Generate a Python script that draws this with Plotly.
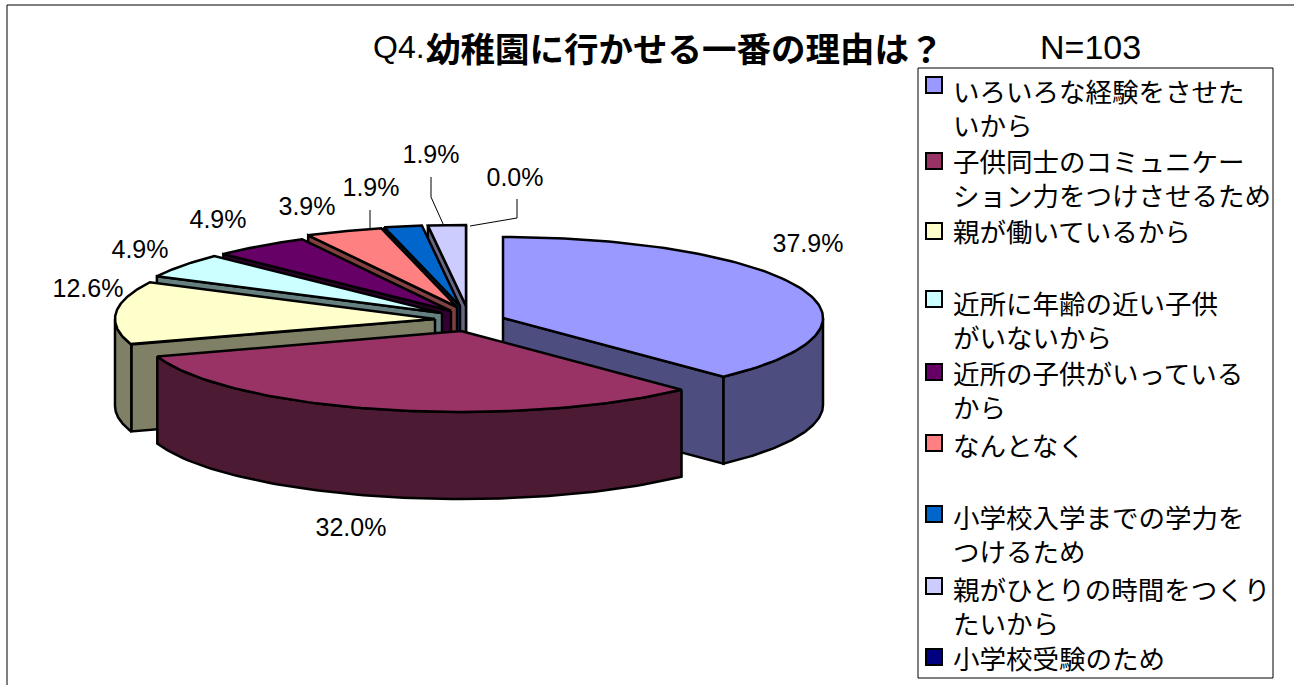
import numpy as np
import plotly.graph_objects as go

W, H = 1294, 685

# ---- data ----
categories = [
    "いろいろな経験をさせたいから",
    "子供同士のコミュニケーション力をつけさせるため",
    "親が働いているから",
    "近所に年齢の近い子供がいないから",
    "近所の子供がいっているから",
    "なんとなく",
    "小学校入学までの学力をつけるため",
    "親がひとりの時間をつくりたいから",
    "小学校受験のため",
]
legend_lines = [
    "いろいろな経験をさせた<br>いから",
    "子供同士のコミュニケー<br>ション力をつけさせるため",
    "親が働いているから",
    "近所に年齢の近い子供<br>がいないから",
    "近所の子供がいっている<br>から",
    "なんとなく",
    "小学校入学までの学力を<br>つけるため",
    "親がひとりの時間をつくり<br>たいから",
    "小学校受験のため",
]
values = [37.9, 32.0, 12.6, 4.9, 4.9, 3.9, 1.9, 1.9, 0.0]
colors = ["#9999FF", "#993366", "#FFFFCC", "#CCFFFF", "#660066",
          "#FF8080", "#0066CC", "#CCCCFF", "#000080"]
side_colors = ["#4D4D80", "#4D1A33", "#808066", "#668080", "#330033",
               "#804040", "#003366", "#666680", "#000040"]

# ---- pie projection ----
RX, RY, DEPTH = 320, 81, 87
CENTER = (469, 319)
# explosion displacement of each slice from the pie centre
explode = [(34, -1), (-8, 12), (-34, 0), (-27, -6), (-18, -8),
           (-12, -12), (-9, -13), (-3, -13), (0, -13)]
label_pos = [(808, 246), (351, 530), (88, 291), (140, 252), (218, 222),
             (307, 209), (371, 190), (431, 157), (515, 180)]
leaders = {
    6: [(370, 210), (370, 228)],
    7: [(431, 177), (431, 197), (444, 226)],
    8: [(517, 199), (517, 218), (470, 226)],
}
legend_y = [85, 161, 231, 299, 372, 443, 514, 586, 657]
legend_text_y = [91, 161, 231, 303, 373, 445, 517, 589, 658]
TEXT_FONT = "Liberation Sans"
CJK = "Noto Sans CJK JP"

edges = np.cumsum([0] + values) / sum(values) * 2 * np.pi


def rim(cx, cy, t):
    return cx + RX * np.sin(t), cy - RY * np.cos(t)


fig = go.Figure()


def poly(xs, ys, fill, name):
    fig.add_trace(go.Scatter(
        x=list(xs), y=list(ys), mode="lines", fill="toself", fillcolor=fill,
        line=dict(color="black", width=2.5), hoverinfo="text", text=name,
        showlegend=False))


# back-to-front painting order
for i in [7, 6, 5, 4, 3, 2, 0, 1]:
    a, b = edges[i], edges[i + 1]
    cx, cy = CENTER[0] + explode[i][0], CENTER[1] + explode[i][1]
    name = f"{categories[i]}: {values[i]:.1f}%"
    # cut faces
    if np.sin(b) > 0:
        x, y = rim(cx, cy, b)
        poly([cx, x, x, cx, cx], [cy, y, y + DEPTH, cy + DEPTH, cy], side_colors[i], name)
    if np.sin(a) < 0:
        x, y = rim(cx, cy, a)
        poly([cx, x, x, cx, cx], [cy, y, y + DEPTH, cy + DEPTH, cy], side_colors[i], name)
    # outer wall
    lo, hi = max(a, np.pi / 2), min(b, 3 * np.pi / 2)
    if hi > lo:
        t = np.linspace(lo, hi, 80)
        x, y = rim(cx, cy, t)
        poly(np.r_[x, x[::-1], x[0]], np.r_[y, y[::-1] + DEPTH, y[0]], side_colors[i], name)
    # top face
    t = np.linspace(a, b, 100)
    x, y = rim(cx, cy, t)
    poly(np.r_[cx, x, cx], np.r_[cy, y, cy], colors[i], name)

# leader lines
for pts in leaders.values():
    fig.add_trace(go.Scatter(x=[p[0] for p in pts], y=[p[1] for p in pts], mode="lines",
                             line=dict(color="black", width=1), hoverinfo="skip",
                             showlegend=False))

# percentage labels
fig.add_trace(go.Scatter(
    x=[p[0] for p in label_pos], y=[p[1] for p in label_pos], mode="text",
    text=[f"{v:.1f}%" for v in values], textposition="middle center",
    textfont=dict(family=TEXT_FONT, size=25, color="black"),
    hoverinfo="skip", showlegend=False))

# legend swatches
fig.add_trace(go.Scatter(
    x=[934] * len(colors), y=legend_y, mode="markers",
    marker=dict(symbol="square", size=16, color=colors, line=dict(color="black", width=2)),
    text=categories, hoverinfo="text", showlegend=False))

annotations = []
for txt, y in zip(legend_lines, legend_text_y):
    annotations.append(dict(
        x=952, y=y - 21, xref="x", yref="y", xanchor="left", yanchor="top", align="left",
        text=txt, showarrow=False, borderpad=0,
        font=dict(family=CJK, size=26.5, color="black")))
annotations.append(dict(
    x=372, y=47, xref="x", yref="y", xanchor="left", yanchor="middle", showarrow=False,
    text="Q4.", font=dict(family=TEXT_FONT, size=32, color="black"), borderpad=0))
annotations.append(dict(
    x=425, y=47, xref="x", yref="y", xanchor="left", yanchor="middle", showarrow=False,
    text="<b>幼稚園に行かせる一番の理由は？</b>",
    font=dict(family=CJK, size=34.5, color="black"), borderpad=0))
annotations.append(dict(
    x=1090, y=47, xref="x", yref="y", xanchor="center", yanchor="middle", showarrow=False,
    text="N=103", font=dict(family=TEXT_FONT, size=34, color="black"), borderpad=0))

shapes = [
    dict(type="rect", x0=918, x1=1273, y0=68, y1=678, xref="x", yref="y",
         line=dict(color="black", width=1), fillcolor="white", layer="below"),
    dict(type="line", x0=7, x1=7, y0=5, y1=H, xref="x", yref="y", line=dict(color="black", width=1)),
    dict(type="line", x0=7, x1=W, y0=5, y1=5, xref="x", yref="y", line=dict(color="black", width=1)),
]

fig.update_layout(
    width=W, height=H, margin=dict(l=0, r=0, t=0, b=0),
    paper_bgcolor="white", plot_bgcolor="white", showlegend=False,
    xaxis=dict(range=[0, W], visible=False, fixedrange=True),
    yaxis=dict(range=[H, 0], visible=False, fixedrange=True),
    annotations=annotations, shapes=shapes,
)

fig.write_html("out.html", config={"displayModeBar": False},
               post_script="document.body.style.margin='0';document.body.style.overflow='hidden';")
